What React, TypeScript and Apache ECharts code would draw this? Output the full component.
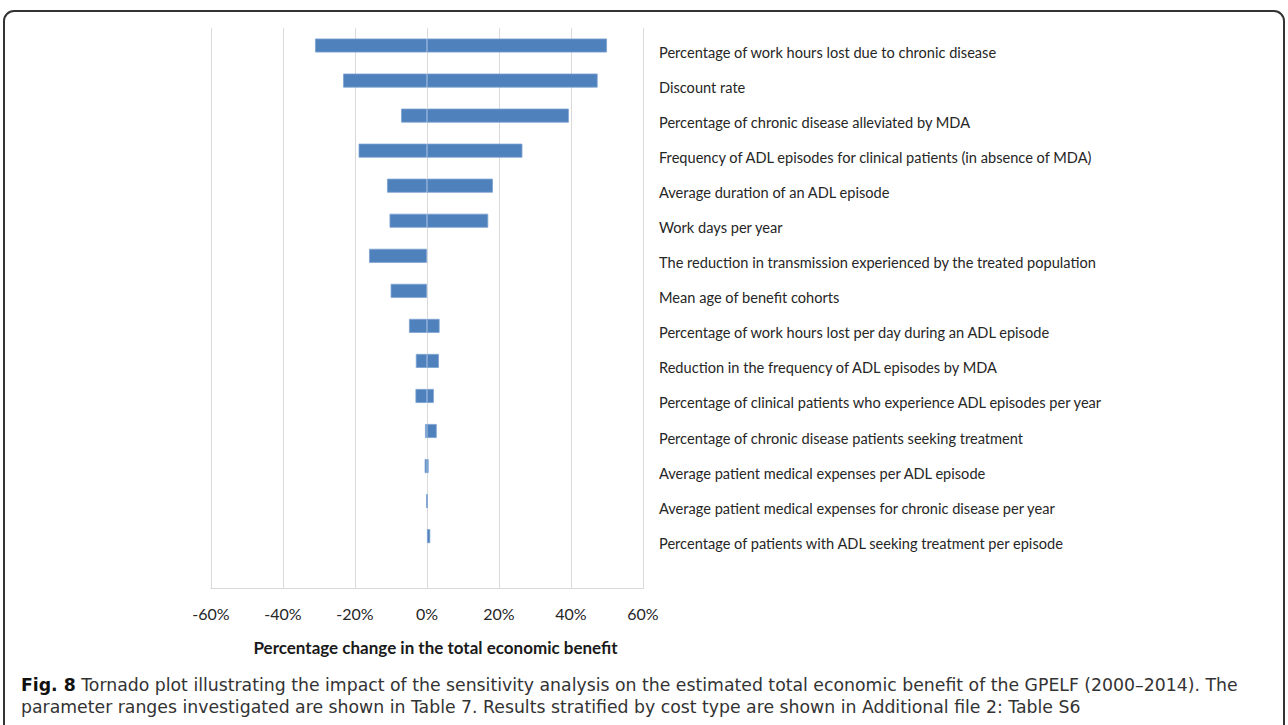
import React, { useEffect, useRef } from "react";
import * as echarts from "echarts";

const categories: string[] = [
  "Percentage of work hours lost due to chronic disease",
  "Discount rate",
  "Percentage of chronic disease alleviated by MDA",
  "Frequency of ADL episodes for clinical patients (in absence of MDA)",
  "Average duration of an ADL episode",
  "Work days per year",
  "The reduction in transmission experienced by the treated population",
  "Mean age of benefit cohorts",
  "Percentage of work hours lost per day during an ADL episode",
  "Reduction in the frequency of ADL episodes by MDA",
  "Percentage of clinical patients who experience ADL episodes per year",
  "Percentage of chronic disease patients seeking treatment",
  "Average patient medical expenses per ADL episode",
  "Average patient medical expenses for chronic disease per year",
  "Percentage of patients with ADL seeking treatment per episode",
  "",
];

const lowValues: (number | null)[] = [
  -31.1, -23.3, -7.2, -19.0, -11.1, -10.4, -16.1, -10.1, -5.0, -3.1, -3.2, -0.55, -0.65, -0.12, null, null,
];

const highValues: (number | null)[] = [
  50.0, 47.4, 39.4, 26.5, 18.3, 17.0, null, null, 3.5, 3.3, 1.9, 2.7, 0.45, 0.12, 0.9, null,
];

const xTicks = { min: -60, max: 60, interval: 20 };

const axisTitle = "Percentage change in the total economic benefit";
const captionBold = "Fig. 8";
const captionLine1 =
  " Tornado plot illustrating the impact of the sensitivity analysis on the estimated total economic benefit of the GPELF (2000–2014). The";
const captionLine2 =
  "parameter ranges investigated are shown in Table 7. Results stratified by cost type are shown in Additional file 2: Table S6";

const BAR = "#4f81bd";
const CAPTION_FONT = "DejaVu Sans";

export default function App() {
  const ref = useRef<HTMLDivElement>(null);
  useEffect(() => {
    if (!ref.current) return;
    const chart = echarts.init(ref.current, null, { renderer: "svg" });
    const barStyle = { color: BAR, borderColor: "#7ea2d2", borderWidth: 0.8 };
    chart.setOption({
      animation: false,
      backgroundColor: "#ffffff",
      textStyle: { fontFamily: "Lato" },
      grid: { left: 211, right: 1288 - 643, top: 28, bottom: 725 - 588.7, containLabel: false },
      xAxis: {
        type: "value",
        min: xTicks.min,
        max: xTicks.max,
        interval: xTicks.interval,
        axisLine: { show: true, lineStyle: { color: "#d9d9d9", width: 1 } },
        axisTick: { show: false },
        splitLine: { show: true, lineStyle: { color: "#d9d9d9", width: 1 } },
        axisLabel: {
          formatter: (v: number) => `${v}%`,
          fontFamily: "Lato",
          fontSize: 16,
          color: "#262626",
          margin: 17,
        },
        name: axisTitle,
        nameLocation: "middle",
        nameGap: 50,
        nameTextStyle: {
          fontFamily: "Lato",
          fontWeight: "bold",
          fontSize: 17,
          color: "#1a1a1a",
          padding: [0, 0, 0, 17],
        },
      },
      yAxis: {
        type: "category",
        data: categories,
        inverse: true,
        position: "right",
        axisLine: { show: false },
        axisTick: { show: false },
        splitLine: { show: false },
        axisLabel: {
          fontFamily: "Lato",
          fontSize: 14.6,
          color: "#262626",
          margin: 16,
          align: "left",
          verticalAlign: "top",
          lineHeight: 14,
        },
      },
      series: [
        {
          type: "bar",
          name: "Low",
          data: lowValues,
          barWidth: 14,
          barGap: "-100%",
          itemStyle: barStyle,
        },
        {
          type: "bar",
          name: "High",
          data: highValues,
          barWidth: 14,
          barGap: "-100%",
          itemStyle: barStyle,
        },
      ],
      graphic: [
        {
          type: "rect",
          shape: { x: 4, y: 11, width: 1280, height: 740, r: 10 },
          style: { fill: "none", stroke: "#333333", lineWidth: 2 },
          silent: true,
        },
        {
          type: "text",
          left: 21,
          top: 675,
          style: {
            text: `{b|${captionBold}}${captionLine1}`,
            fontFamily: CAPTION_FONT,
            fontSize: 17.3,
            lineHeight: 20,
            fill: "#333333",
            rich: {
              b: { fontFamily: CAPTION_FONT, fontWeight: "bold", fontSize: 17.3, fill: "#111111", lineHeight: 20 },
            },
          },
          silent: true,
        },
        {
          type: "text",
          left: 21,
          top: 697,
          style: {
            text: captionLine2,
            fontFamily: CAPTION_FONT,
            fontSize: 17.3,
            lineHeight: 20,
            fill: "#333333",
          },
          silent: true,
        },
      ],
    });
    return () => chart.dispose();
  }, []);
  return (
    <div
      ref={ref}
      style={{ position: "fixed", left: 0, top: 0, width: 1288, height: 725, background: "#fff" }}
    />
  );
}
